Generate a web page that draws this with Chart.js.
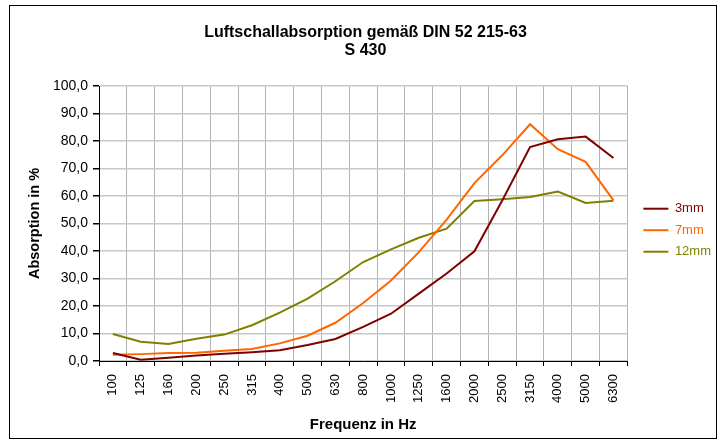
<!DOCTYPE html>
<html>
<head>
<meta charset="utf-8">
<script src="https://cdn.jsdelivr.net/npm/chart.js@4"></script>
<style>
  body { margin: 0; background: #fff; }
  #wrap { position: relative; width: 721px; height: 442px; }
  #frame { position: absolute; left: 9px; top: 5px; width: 706px; height: 432px; border: 1px solid #000; }
  #myChart { position: absolute; left: 0; top: 0; }
</style>
</head>
<body>
<div id="wrap">
  <div id="frame"></div>
  <canvas id="myChart" width="721" height="442"></canvas>
</div>
<script>
// Terzband-Frequenzen
var frequencies = ["100","125","160","200","250","315","400","500","630","800","1000","1250","1600","2000","2500","3150","4000","5000","6300"];
var seriesNames = ["3mm", "7mm", "12mm"];
var seriesColors = ["#800000", "#FF6600", "#808000"];

var absorption3mm  = [2.9, 0.5, 1.2, 2.0, 2.6, 3.2, 3.9, 5.8, 8.0, 12.4, 17.2, 24.5, 31.8, 39.9, 58.4, 77.8, 80.6, 81.6, 73.8];
var absorption7mm  = [2.3, 2.5, 2.9, 3.0, 3.7, 4.4, 6.4, 9.2, 13.9, 21.1, 29.3, 39.6, 51.4, 64.7, 74.8, 86.1, 77.0, 72.4, 58.4];
var absorption12mm = [9.8, 7.0, 6.2, 8.1, 9.6, 13.0, 17.6, 22.7, 29.0, 36.0, 40.6, 44.8, 48.1, 58.2, 58.8, 59.6, 61.6, 57.5, 58.3];

var yMin = 0, yMax = 100, yStep = 10;

Chart.defaults.font.family = "'Liberation Sans', Arial, sans-serif";
Chart.defaults.color = "#000";

var allSeries = [absorption3mm, absorption7mm, absorption12mm];
var datasets = [];
for (var i = 0; i < allSeries.length; i++) {
    datasets.push({
        label: seriesNames[i],
        data: allSeries[i],
        borderColor: seriesColors[i],
        backgroundColor: seriesColors[i],
        borderWidth: 2,
        pointRadius: 0,
        tension: 0,
        yAxisID: 'y'
    });
}

var ctx = document.getElementById('myChart').getContext('2d');
var chart = new Chart(ctx, {
    type: 'line',
    data: {
        labels: frequencies,
        datasets: datasets
    },
    options: {
        responsive: false,
        animation: false,
        layout: { padding: { left: 10, right: 0, top: 0, bottom: 8 } },
        plugins: {
            title: {
                display: true,
                text: ["Luftschallabsorption gemäß DIN 52 215-63", "S 430"],
                font: { size: 16, weight: 'bold', lineHeight: 1.125 },
                color: "#000",
                padding: { top: 24, bottom: 26 }
            },
            legend: {
                position: 'right',
                title: { display: true, text: " ", font: { size: 12 }, padding: 6 },
                labels: {
                    boxWidth: 25,
                    boxHeight: 2,
                    padding: 8.5,
                    font: { size: 13 },
                    generateLabels: function(c) {
                        return c.data.datasets.map(function(ds, idx) {
                            return {
                                text: ds.label,
                                fillStyle: ds.borderColor,
                                strokeStyle: ds.borderColor,
                                lineWidth: 0,
                                fontColor: ds.borderColor,
                                datasetIndex: idx
                            };
                        });
                    }
                }
            },
            tooltip: { enabled: false }
        },
        scales: {
            x: {
                offset: true,
                grid: {
                    offset: true,
                    color: "#b4b4b4",
                    lineWidth: 1,
                    tickColor: "#000",
                    tickLength: 5
                },
                border: { color: "#000", width: 1 },
                ticks: {
                    minRotation: 90,
                    maxRotation: 90,
                    padding: 8,
                    font: { size: 13 },
                    autoSkip: false
                },
                title: {
                    display: true,
                    text: "Frequenz in Hz",
                    font: { size: 15, weight: 'bold' },
                    padding: { top: 7, bottom: 0 }
                },
                afterFit: function(s) { s.height = 73; }
            },
            y: {
                min: yMin,
                max: yMax,
                grid: {
                    color: "#c8c8c8",
                    lineWidth: 1.5,
                    tickColor: "#000",
                    tickLength: 6
                },
                border: { color: "#000", width: 1 },
                ticks: {
                    stepSize: yStep,
                    padding: 5,
                    font: { size: 14 },
                    callback: function(v) { return v.toFixed(1).replace('.', ','); }
                },
                title: {
                    display: true,
                    text: "Absorption in %",
                    font: { size: 14.5, weight: 'bold' },
                    padding: { top: 16, bottom: 0 }
                },
                afterFit: function(s) { s.width = 89; }
            },
            gap: {
                position: 'right',
                display: true,
                min: 0,
                max: 1,
                grid: { display: false, drawTicks: false },
                border: { display: false },
                ticks: { display: false },
                afterFit: function(s) { s.width = 7.5; }
            }
        }
    }
});
</script>
</body>
</html>
